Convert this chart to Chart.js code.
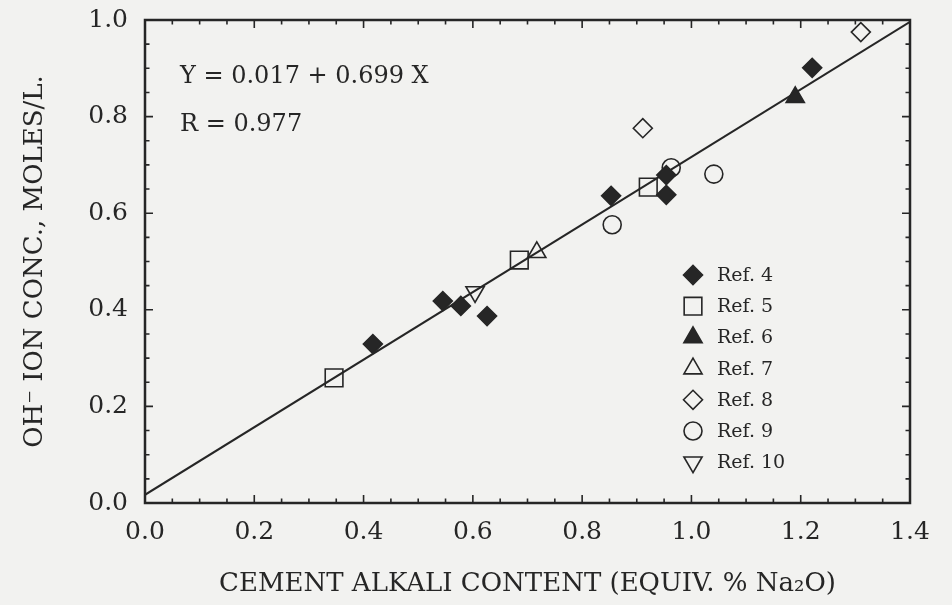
<!DOCTYPE html>
<html>
<head>
<meta charset="utf-8">
<script src="https://cdn.jsdelivr.net/npm/chart.js@4.4.0/dist/chart.umd.min.js"></script>
<style>
html, body { margin: 0; padding: 0; background: #f2f2f0; }
</style>
</head>
<body>
<canvas id="ohChart" width="952" height="605"></canvas>
<script>
// Valori: x = alcali del cemento (% Na2O eq.), y = OH- (mol/L)
const ref4X = [0.417, 0.545, 0.578, 0.626, 0.853, 0.954, 0.954, 1.221];
const ref4Y = [0.329, 0.418, 0.408, 0.387, 0.636, 0.679, 0.638, 0.901];
const ref5X = [0.346, 0.685, 0.921];
const ref5Y = [0.259, 0.503, 0.654];
const ref6X = [1.190];
const ref6Y = [0.840];
const ref7X = [0.717];
const ref7Y = [0.519];
const ref8X = [0.911, 1.310];
const ref8Y = [0.776, 0.975];
const ref9X = [0.855, 0.963, 1.041];
const ref9Y = [0.576, 0.694, 0.681];
const ref10X = [0.604];
const ref10Y = [0.437];

// retta di regressione Y = 0.017 + 0.699 X, estremi del grafico
const fitX = [0.0, 1.4];
const fitY = [0.017, 0.996];

const xTicks = [0.0, 0.2, 0.4, 0.6, 0.8, 1.0, 1.2, 1.4];
const yTicks = [0.0, 0.2, 0.4, 0.6, 0.8, 1.0];
const equationText = ['Y = 0.017 + 0.699 X', 'R = 0.977'];

const ink = '#262626';
const paper = '#f2f2f0';
const serif = "'DejaVu Serif', serif";

const pts = (xs, ys) => xs.map((x, i) => ({ x: x, y: ys[i] }));

function serie(label, xs, ys, style, radius, filled, rotation) {
    return {
        type: 'scatter',
        label: label,
        data: pts(xs, ys),
        pointStyle: style,
        pointRadius: radius,
        pointHoverRadius: radius,
        pointRotation: rotation || 0,
        pointBorderWidth: 1.6,
        borderColor: ink,
        backgroundColor: filled ? ink : 'rgba(0,0,0,0)'
    };
}

// cornice, tacche interne, testo dell'equazione e legenda
const cornice = {
    id: 'cornice',
    beforeDraw(chart) {
        const ctx = chart.ctx;
        ctx.save();
        ctx.fillStyle = paper;
        ctx.fillRect(0, 0, chart.width, chart.height);
        ctx.restore();
    },
    afterDraw(chart) {
        const { ctx, chartArea: a, scales: { x, y } } = chart;
        ctx.save();
        ctx.strokeStyle = ink;
        ctx.lineWidth = 2.5;
        ctx.strokeRect(a.left, a.top, a.right - a.left, a.bottom - a.top);

        ctx.lineWidth = 1.6;
        ctx.beginPath();
        for (let i = 0; i <= 28; i++) {
            const px = x.getPixelForValue(i * 0.05);
            const len = i % 4 === 0 ? 8 : 4.5;
            ctx.moveTo(px, a.bottom); ctx.lineTo(px, a.bottom - len);
            ctx.moveTo(px, a.top); ctx.lineTo(px, a.top + len);
        }
        for (let i = 0; i <= 20; i++) {
            const py = y.getPixelForValue(i * 0.05);
            const len = i % 4 === 0 ? 8 : 4.5;
            ctx.moveTo(a.left, py); ctx.lineTo(a.left + len, py);
            ctx.moveTo(a.right, py); ctx.lineTo(a.right - len, py);
        }
        ctx.stroke();

        ctx.fillStyle = ink;
        ctx.font = '24px ' + serif;
        ctx.textBaseline = 'middle';
        ctx.textAlign = 'left';
        ctx.fillText(equationText[0], a.left + 35, a.top + 57);
        ctx.fillText(equationText[1], a.left + 35, a.top + 105);

        // legenda
        const lx = 693, ly = 275, step = 31.2;
        ctx.font = '19px ' + serif;
        chart.data.datasets.filter(d => d.label).forEach((d, i) => {
            const cy = ly + i * step;
            ctx.fillStyle = d.backgroundColor;
            ctx.strokeStyle = ink;
            ctx.lineWidth = 1.6;
            if (Chart.helpers && Chart.helpers.drawPoint) {
                Chart.helpers.drawPoint(ctx, {
                    pointStyle: d.pointStyle,
                    radius: d.pointRadius,
                    rotation: d.pointRotation,
                    borderWidth: 1.6
                }, lx, cy);
            }
            ctx.fillStyle = ink;
            ctx.fillText(d.label, lx + 24, cy + 1);
        });
        ctx.restore();
    }
};

const ctx = document.getElementById('ohChart').getContext('2d');
const ohChart = new Chart(ctx, {
    data: {
        datasets: [
            serie('Ref. 4', ref4X, ref4Y, 'rectRot', 9.5, true),
            serie('Ref. 5', ref5X, ref5Y, 'rect', 12.5, false),
            serie('Ref. 6', ref6X, ref6Y, 'triangle', 10.5, true),
            serie('Ref. 7', ref7X, ref7Y, 'triangle', 10.5, false),
            serie('Ref. 8', ref8X, ref8Y, 'rectRot', 9.5, false),
            serie('Ref. 9', ref9X, ref9Y, 'circle', 9, false),
            serie('Ref. 10', ref10X, ref10Y, 'triangle', 10.5, false, 180),
            {
                type: 'scatter',
                data: pts(fitX, fitY),
                showLine: true,
                borderColor: ink,
                borderWidth: 2,
                pointRadius: 0,
                pointHoverRadius: 0
            }
        ]
    },
    options: {
        responsive: false,
        animation: false,
        devicePixelRatio: 1,
        layout: { padding: { left: 0, right: 42, top: 20, bottom: 0 } },
        plugins: {
            legend: { display: false },
            tooltip: { enabled: false }
        },
        scales: {
            x: {
                type: 'linear',
                min: 0,
                max: 1.4,
                afterBuildTicks: s => { s.ticks = xTicks.map(v => ({ value: v })); },
                afterFit: s => { s.height = 102; },
                grid: { display: false, drawTicks: false },
                border: { display: false },
                ticks: {
                    padding: 14,
                    color: ink,
                    font: { family: serif, size: 25 },
                    callback: v => v.toFixed(1)
                },
                title: {
                    display: true,
                    text: 'CEMENT ALKALI CONTENT (EQUIV. % Na\u2082O)',
                    color: ink,
                    font: { family: serif, size: 26 },
                    padding: { top: 0, bottom: 5 }
                }
            },
            y: {
                type: 'linear',
                min: 0,
                max: 1.0,
                afterBuildTicks: s => { s.ticks = yTicks.map(v => ({ value: v })); },
                afterFit: s => {
                    s.width = 145;
                    s.paddingTop = 0;
                    s.paddingBottom = 0;
                },
                grid: { display: false, drawTicks: false },
                border: { display: false },
                ticks: {
                    padding: 17,
                    color: ink,
                    font: { family: serif, size: 25 },
                    callback: v => v.toFixed(1)
                },
                title: {
                    display: true,
                    text: 'OH\u207B ION CONC., MOLES/L.',
                    color: ink,
                    font: { family: serif, size: 26 },
                    padding: { top: 20, bottom: 0 }
                }
            }
        }
    },
    plugins: [cornice]
});
</script>
</body>
</html>
